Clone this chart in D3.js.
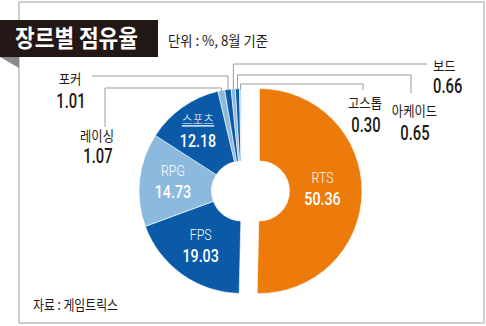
<!DOCTYPE html>
<html><head><meta charset="utf-8">
<script src="https://cdn.jsdelivr.net/npm/d3@7"></script>
<style>
html,body{margin:0;padding:0;background:#fff;}
svg{display:block;}
.kr{font-family:"Noto Sans CJK KR","Noto Sans",sans-serif;}
.num{font-family:"Roboto","Liberation Sans",sans-serif;}
</style></head>
<body>
<svg id="c" width="486" height="326"></svg>
<script>
// ---- data ----
const categories = ["RTS","FPS","RPG","스포츠","레이싱","포커","보드","아케이드","고스톱"];
const values = [50.36,19.03,14.73,12.18,1.07,1.01,0.66,0.65,0.30];
const valueLabels = ["50.36","19.03","14.73","12.18","1.07","1.01","0.66","0.65","0.30"];
const colorKeys = ["orange","dark","light","dark","light","dark","light","dark","pale"];
const title = "장르별 점유율";
const unitNote = "단위 : %, 8월 기준";
const source = "자료 : 게임트릭스";

// ---- styles / layout ----
const palette = {orange:"#ec7b0b", dark:"#0a5aa8", light:"#8cb9de", pale:"#b9d6ee"};
const ink = "#231815";
const lineColor = "#9a9a9a";
const cy = 191, cxLeft = 241.5, cxRight = 259.5;
const rOuter = 102.5, rInner = 30, rLabel = 72;

const svg = d3.select("#c");

// card border
svg.append("rect").attr("x",19).attr("y",2).attr("width",465).attr("height",321)
  .attr("fill","#fff").attr("stroke","#cfcfcf").attr("stroke-width",2);

// title box
svg.append("polygon").attr("points","0,57 19,57 19,68").attr("fill","#8a8a8a");
svg.append("rect").attr("x",0).attr("y",20).attr("width",158).attr("height",37).attr("fill",ink);
svg.append("text").attr("class","kr").attr("x",15).attr("y",46.5)
  .attr("font-size",24).attr("font-weight",700).attr("fill","#fff")
  .attr("textLength",123).attr("lengthAdjust","spacingAndGlyphs").text(title);
svg.append("text").attr("class","kr").attr("x",168).attr("y",46)
  .attr("font-size",14).attr("fill",ink)
  .attr("textLength",100).attr("lengthAdjust","spacingAndGlyphs").text(unitNote);
svg.append("text").attr("class","kr").attr("x",33).attr("y",310)
  .attr("font-size",14).attr("fill",ink)
  .attr("textLength",85).attr("lengthAdjust","spacingAndGlyphs").text(source);

// pie
const data = categories.map((c,i)=>({cat:c, value:values[i], label:valueLabels[i], color:palette[colorKeys[i]], i}));
const pie = d3.pie().value(d=>d.value).sort(null).startAngle(0).endAngle(2*Math.PI);
const arcs = pie(data);
const arc = d3.arc().innerRadius(rInner).outerRadius(rOuter);
const labelArc = d3.arc().innerRadius(rLabel).outerRadius(rLabel);

const cx = d => d.index === 0 ? cxRight : cxLeft;

svg.append("g").selectAll("path").data(arcs).join("path")
  .attr("transform", d=>`translate(${cx(d)},${cy})`)
  .attr("d", arc).attr("fill", d=>d.data.color)
  .attr("stroke","#fff").attr("stroke-width",0.6);

// inside labels (big slices)
const labelOffsets = {0:[-9,-1],1:[1,-2],2:[3,1],3:[-2,1]};
const isLatin = s => /[A-Z]/.test(s);
const inside = arcs.filter(d=>d.data.value>5);
const gIn = svg.append("g").selectAll("g").data(inside).join("g")
  .attr("transform", d=>{const c=labelArc.centroid(d); const o=labelOffsets[d.index]; return `translate(${cx(d)+c[0]+o[0]},${cy+c[1]+o[1]})`;});
gIn.append("text").attr("class",d=>isLatin(d.data.cat)?"num":"kr")
  .attr("text-anchor","middle")
  .attr("transform",d=>isLatin(d.data.cat)?"translate(0,-8) scale(0.85,1)":"translate(0,-9) scale(0.9,1)")
  .attr("font-size",d=>isLatin(d.data.cat)?14.5:13)
  .attr("fill","#fff").attr("font-weight",300)
  .attr("text-decoration",d=>isLatin(d.data.cat)?null:"underline")
  .text(d=>d.data.cat);
gIn.append("text").attr("class","num").attr("text-anchor","middle")
  .attr("transform","translate(0,14) scale(0.75,1)")
  .attr("font-size",19).attr("font-weight",500).attr("fill","#fff")
  .text(d=>d.data.label);

// outside labels with leader lines (layout only)
const outLayout = {
  "레이싱": {level:88, path:[[105,88],[105,127]], name:[97,141], val:[98,163], anchor:"middle"},
  "포커":   {level:76, path:[[92,76]], name:[70,84], val:[71,108], anchor:"middle"},
  "보드":   {level:64, path:[[427,64]], name:[433,71], val:[433,93], anchor:"start"},
  "아케이드":{level:75, path:[[411,75],[411,93]], name:[414.5,116], val:[415,140], anchor:"middle"},
  "고스톱": {level:84, path:[[363,84],[363,90]], name:[365,108], val:[366,132], anchor:"middle"}
};
const outside = arcs.filter(d=>d.data.value<5);
outside.forEach(d=>{
  const L = outLayout[d.data.cat];
  const a = (d.startAngle+d.endAngle)/2;
  const ax = cx(d) + Math.sin(a)*(rOuter-1), ay = cy - Math.cos(a)*(rOuter-1);
  const pts = [[ax,ay],[ax,L.level]].concat(L.path);
  svg.append("path").attr("d", d3.line()(pts)).attr("fill","none")
    .attr("stroke",lineColor).attr("stroke-width",1);
  svg.append("text").attr("class","kr")
    .attr("transform",`translate(${L.name[0]},${L.name[1]}) scale(0.88,1)`)
    .attr("text-anchor",L.anchor).attr("font-size",14).attr("fill",ink).text(d.data.cat);
  svg.append("text").attr("class","num")
    .attr("transform",`translate(${L.val[0]},${L.val[1]}) scale(0.72,1)`)
    .attr("text-anchor",L.anchor).attr("font-size",20.5).attr("font-weight",500).attr("fill",ink)
    .text(d.data.label);
});
</script>
</body></html>
